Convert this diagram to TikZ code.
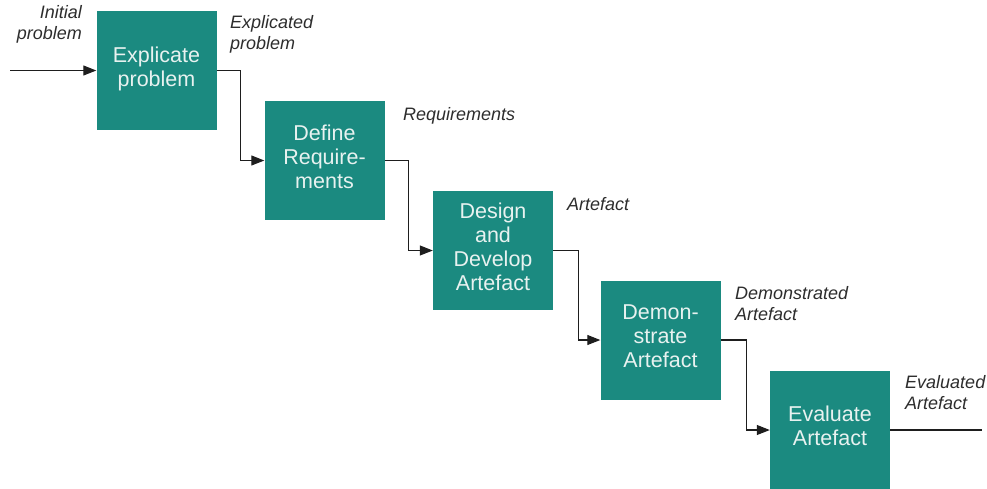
\documentclass[tikz,border=0pt]{standalone}
\usepackage{fontspec}
\setmainfont{Liberation Sans}
\usetikzlibrary{arrows.meta}
\definecolor{stepteal}{RGB}{27,138,128}
\definecolor{steptext}{RGB}{232,242,240}
\definecolor{labelgray}{RGB}{45,45,45}
\definecolor{linegray}{RGB}{30,30,30}
\begin{document}
\begin{tikzpicture}[x=1pt,y=-1pt,
  stepbox/.style={fill=stepteal, draw=none, minimum width=120pt, minimum height=119pt,
    inner sep=0pt, align=center, text=steptext, font=\fontsize{21.5}{24}\selectfont,
    execute at end node={\rule[-8pt]{0pt}{8pt}}},
  flowlabel/.style={text=labelgray, font=\fontsize{18}{21}\selectfont\itshape, inner sep=0pt},
  flow/.style={draw=linegray, line width=1.1pt},
  arr/.style={flow, -{Triangle[length=13pt,width=10pt]}}]
\useasboundingbox (0,0) rectangle (987,488);

% process steps
\node[stepbox] (b1) at (156.5,70.5) {Explicate\\problem};
\node[stepbox] (b2) at (324.5,160.5) {Define\\Require-\\ments};
\node[stepbox] (b3) at (493,250.5) {Design\\and\\Develop\\Artefact};
\node[stepbox] (b4) at (660.5,340) {Demon-\\strate\\Artefact};
\node[stepbox] (b5) at (830,430) {Evaluate\\Artefact};

% free ends of the input and output lines
\coordinate (in) at (10,70.5);
\coordinate (out) at (982,430);

% connectors
\draw[arr] (in) -- (b1.west);
\draw[arr] (b1.east) -- ++(24,0) |- (b2.west);
\draw[arr] (b2.east) -- ++(24,0) |- (b3.west);
\draw[arr] (b3.east) -- ++(25,0) |- (b4.west);
\draw[arr] (b4.east) -- ++(26,0) |- (b5.west);
\draw[flow] (b5.east) -- (out);

% intermediate results
\node[flowlabel, anchor=north east, align=right] (l0) at (82,5) {Initial\\problem};
\node[flowlabel, anchor=north west, align=left] (l1) at (230,15) {Explicated\\problem};
\node[flowlabel, anchor=north west, align=left] (l2) at (403,107) {Requirements};
\node[flowlabel, anchor=north west, align=left] (l3) at (567,197) {Artefact};
\node[flowlabel, anchor=north west, align=left] (l4) at (735,286) {Demonstrated\\Artefact};
\node[flowlabel, anchor=north west, align=left] (l5) at (905,375) {Evaluated\\Artefact};
\end{tikzpicture}
\end{document}
